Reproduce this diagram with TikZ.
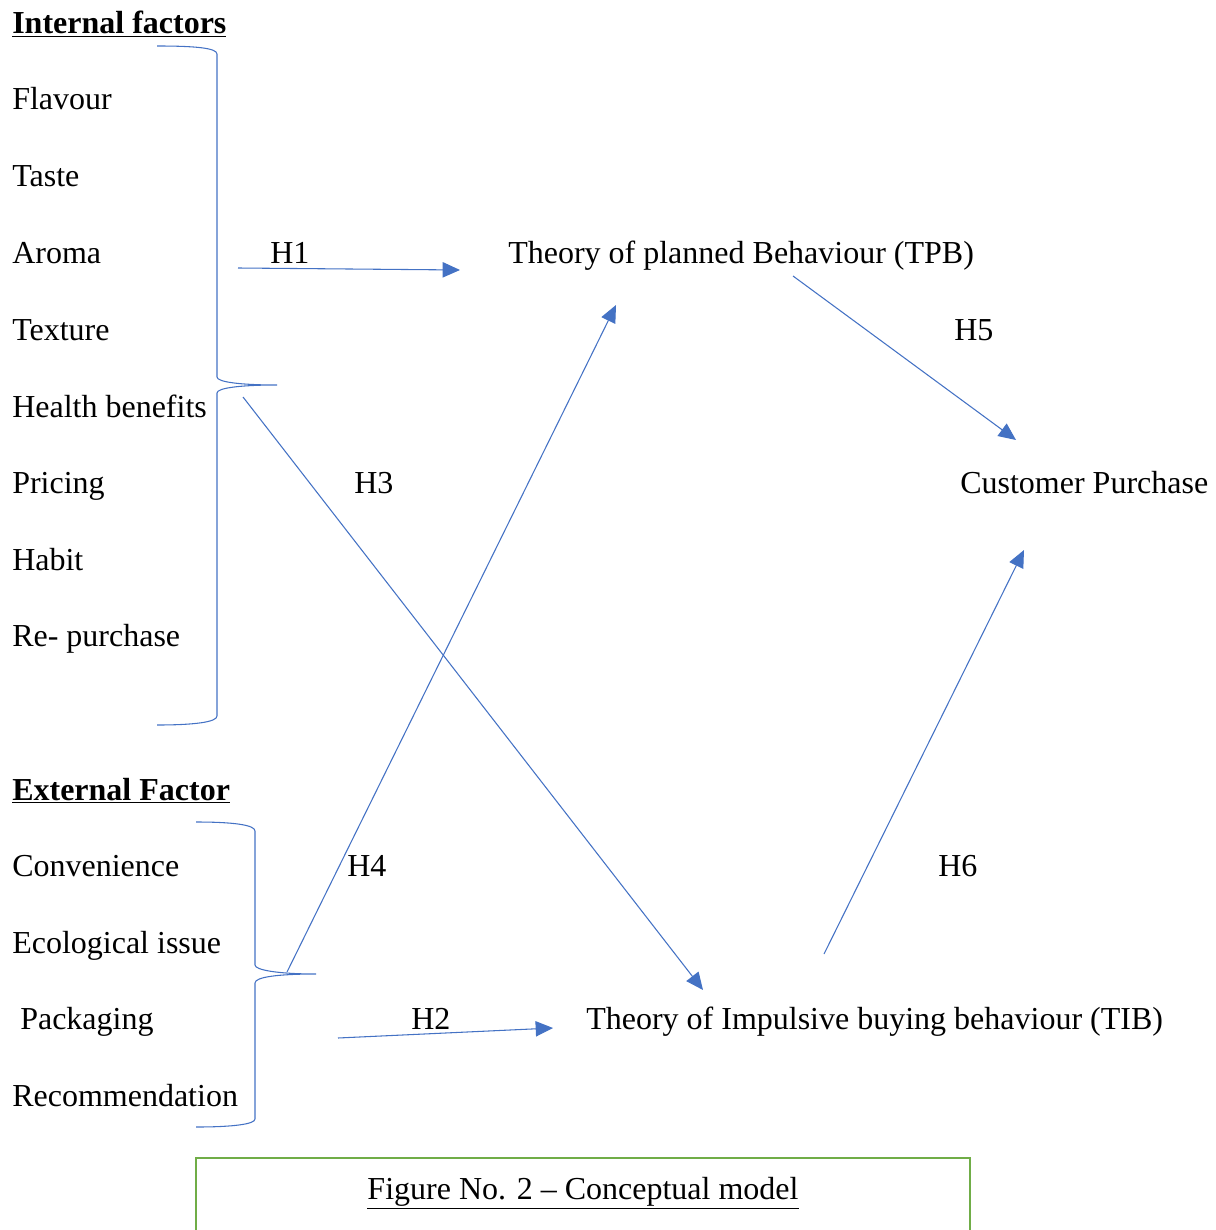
\documentclass[tikz,border=0pt]{standalone}
\usepackage{fontspec}
\setmainfont{Liberation Serif}
\usetikzlibrary{arrows.meta}
\definecolor{wordblue}{HTML}{4472C4}
\definecolor{wordgreen}{HTML}{70AD47}
\begin{document}
\begin{tikzpicture}[x=0.75pt,y=-0.75pt,
  lbl/.style={anchor=base west,inner sep=0pt,font=\fontsize{24}{28}\selectfont},
  conn/.style={draw=wordblue,line width=0.8pt,-{Triangle[length=13pt,width=11.5pt]},color=wordblue},
  bracestyle/.style={draw=wordblue,line width=0.8pt}]
\useasboundingbox (0,0) rectangle (1215,1230);
% left column labels
\node[lbl] (intf) at (12,34) {\textbf{\underline{Internal factors}}};
\node[lbl] (flav) at (12,110) {Flavour};
\node[lbl] (taste) at (12,187) {Taste};
\node[lbl] (aroma) at (12,264) {Aroma};
\node[lbl] (text) at (12,340) {Texture};
\node[lbl] (health) at (12,417) {Health benefits};
\node[lbl] (price) at (12,493) {Pricing};
\node[lbl] (habit) at (12,570) {Habit};
\node[lbl] (repur) at (12,646) {Re- purchase};
\node[lbl] (extf) at (12,800) {\textbf{\underline{External Factor}}};
\node[lbl] (conv) at (12,876) {Convenience};
\node[lbl] (eco) at (12,953) {Ecological issue};
\node[lbl] (pack) at (20,1029) {Packaging};
\node[lbl] (recom) at (12,1106) {Recommendation};
% theory nodes
\node[lbl] (tpb) at (508,264) {Theory of planned Behaviour (TPB)};
\node[lbl] (cp) at (960,493) {Customer Purchase};
\node[lbl] (tib) at (586,1029) {Theory of Impulsive buying behaviour (TIB)};
% hypothesis labels
\node[lbl] (h1) at (270,264) {H1};
\node[lbl] (h5) at (954,340) {H5};
\node[lbl] (h3) at (354,493) {H3};
\node[lbl] (h4) at (347,876) {H4};
\node[lbl] (h6) at (938,876) {H6};
\node[lbl] (h2) at (411,1029) {H2};
% braces
\draw[bracestyle] (157,46) .. controls (195,46) and (217,48) .. (217,54)
  -- (217,377) .. controls (217,382) and (240,385) .. (277,385)
  (277,385) .. controls (240,385) and (217,388) .. (217,393)
  -- (217,716) .. controls (217,722) and (195,725) .. (157,725);
\draw[bracestyle] (196,822) .. controls (234,822) and (255,825) .. (255,831)
  -- (255,965) .. controls (255,970) and (278,974) .. (316,974)
  (316,974) .. controls (278,974) and (255,977) .. (255,983)
  -- (255,1119) .. controls (255,1124) and (234,1127) .. (196,1127);
% connector endpoints
\coordinate (h1s) at (238,268);
\coordinate (h1e) at (460,270);
\coordinate (h3s) at (243,397);
\coordinate (h3e) at (703,990);
\coordinate (h4s) at (287,972);
\coordinate (h4e) at (616,305);
\coordinate (h5s) at (793,276);
\coordinate (h5e) at (1016,440);
\coordinate (h6s) at (824,954);
\coordinate (h6e) at (1024,550);
\coordinate (h2s) at (338,1038);
\coordinate (h2e) at (553,1028);
\draw[conn] (h1s) -- (h1e);
\draw[conn] (h3s) -- (h3e);
\draw[conn] (h4s) -- (h4e);
\draw[conn] (h5s) -- (h5e);
\draw[conn] (h6s) -- (h6e);
\draw[conn] (h2s) -- (h2e);
% caption box
\draw[draw=wordgreen,line width=1.6pt] (196,1232) -- (196,1158) -- (970,1158) -- (970,1232);
\node[lbl,anchor=base] (cap) at (583,1199) {\underline{Figure No. 2 – Conceptual model}};
\end{tikzpicture}
\end{document}
